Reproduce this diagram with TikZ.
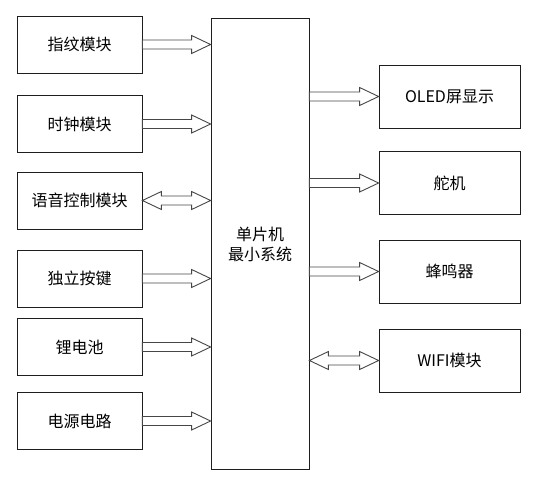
\documentclass[tikz,border=0pt]{standalone}
\usepackage{fontspec}
\setmainfont{Noto Sans CJK SC}
\usepackage{tikz}
\usetikzlibrary{calc, positioning}
\definecolor{cLine}{RGB}{30,30,30}
\definecolor{cArrow}{RGB}{70,70,70}
\tikzset{
	modbox/.style ={rectangle, draw=cLine, line width=0.8pt, minimum width=125pt, minimum height=57pt, align=center, inner sep=1pt},
	outbox/.style ={rectangle, draw=cLine, line width=0.8pt, minimum width=141pt, minimum height=63pt, align=center, inner sep=1pt},
	mcubox/.style ={rectangle, draw=cLine, line width=0.8pt, minimum width=98pt, minimum height=451pt, align=center, inner sep=1pt},
	% hollow block arrows
	blkarr/.style ={draw=cArrow, line width=0.9pt, line join=miter,
		to path={($(\tikztostart)+(0,4.5)$) -- ($(\tikztotarget)+(-19,4.5)$) -- ($(\tikztotarget)+(-19,9)$) -- (\tikztotarget)
			-- ($(\tikztotarget)+(-19,-9)$) -- ($(\tikztotarget)+(-19,-4.5)$) -- ($(\tikztostart)+(0,-4.5)$) -- cycle}},
	dblarr/.style ={draw=cArrow, line width=0.9pt, line join=miter,
		to path={(\tikztostart) -- ($(\tikztostart)+(19,-9)$) -- ($(\tikztostart)+(19,-4.5)$) -- ($(\tikztotarget)+(-19,-4.5)$)
			-- ($(\tikztotarget)+(-19,-9)$) -- (\tikztotarget) -- ($(\tikztotarget)+(-19,9)$) -- ($(\tikztotarget)+(-19,4.5)$)
			-- ($(\tikztostart)+(19,4.5)$) -- ($(\tikztostart)+(19,9)$) -- cycle}},
}

\begin{document}
\begin{tikzpicture}[x=1pt, y=-1pt, font=\fontsize{16}{20}\selectfont]
	\useasboundingbox (0,0) rectangle (540,484);
	% main controller
	\node[mcubox] (mcu) at (260,244) {单片机\\最小系统};
	% left modules
	\node[modbox] (zw) at (79.5,44.5) {指纹模块};
	\node[modbox] (sz) at (79.5,124) {时钟模块};
	\node[modbox] (yy) at (79.5,200.5) {语音控制模块};
	\node[modbox] (aj) at (79.5,278.5) {独立按键};
	\node[modbox] (dc) at (79.5,347) {锂电池};
	\node[modbox] (dy) at (79.5,421) {电源电路};
	% right modules
	\node[outbox] (oled) at (449.5,96.5) {OLED屏显示};
	\node[outbox] (dj) at (449.5,183) {舵机};
	\node[outbox] (fmq) at (449.5,271.5) {蜂鸣器};
	\node[outbox] (wifi) at (449.5,360.5) {WIFI模块};
	% inputs
	\draw[blkarr] (zw.east) to (mcu.west|-zw.east);
	\draw[blkarr] (sz.east) to (mcu.west|-sz.east);
	\draw[dblarr] (yy.east) to (mcu.west|-yy.east);
	\draw[blkarr] (aj.east) to (mcu.west|-aj.east);
	\draw[blkarr] (dc.east) to (mcu.west|-dc.east);
	\draw[blkarr] (dy.east) to (mcu.west|-dy.east);
	% outputs
	\draw[blkarr] (mcu.east|-oled.west) to (oled.west);
	\draw[blkarr] (mcu.east|-dj.west) to (dj.west);
	\draw[blkarr] (mcu.east|-fmq.west) to (fmq.west);
	\draw[dblarr] (mcu.east|-wifi.west) to (wifi.west);
\end{tikzpicture}
\end{document}
